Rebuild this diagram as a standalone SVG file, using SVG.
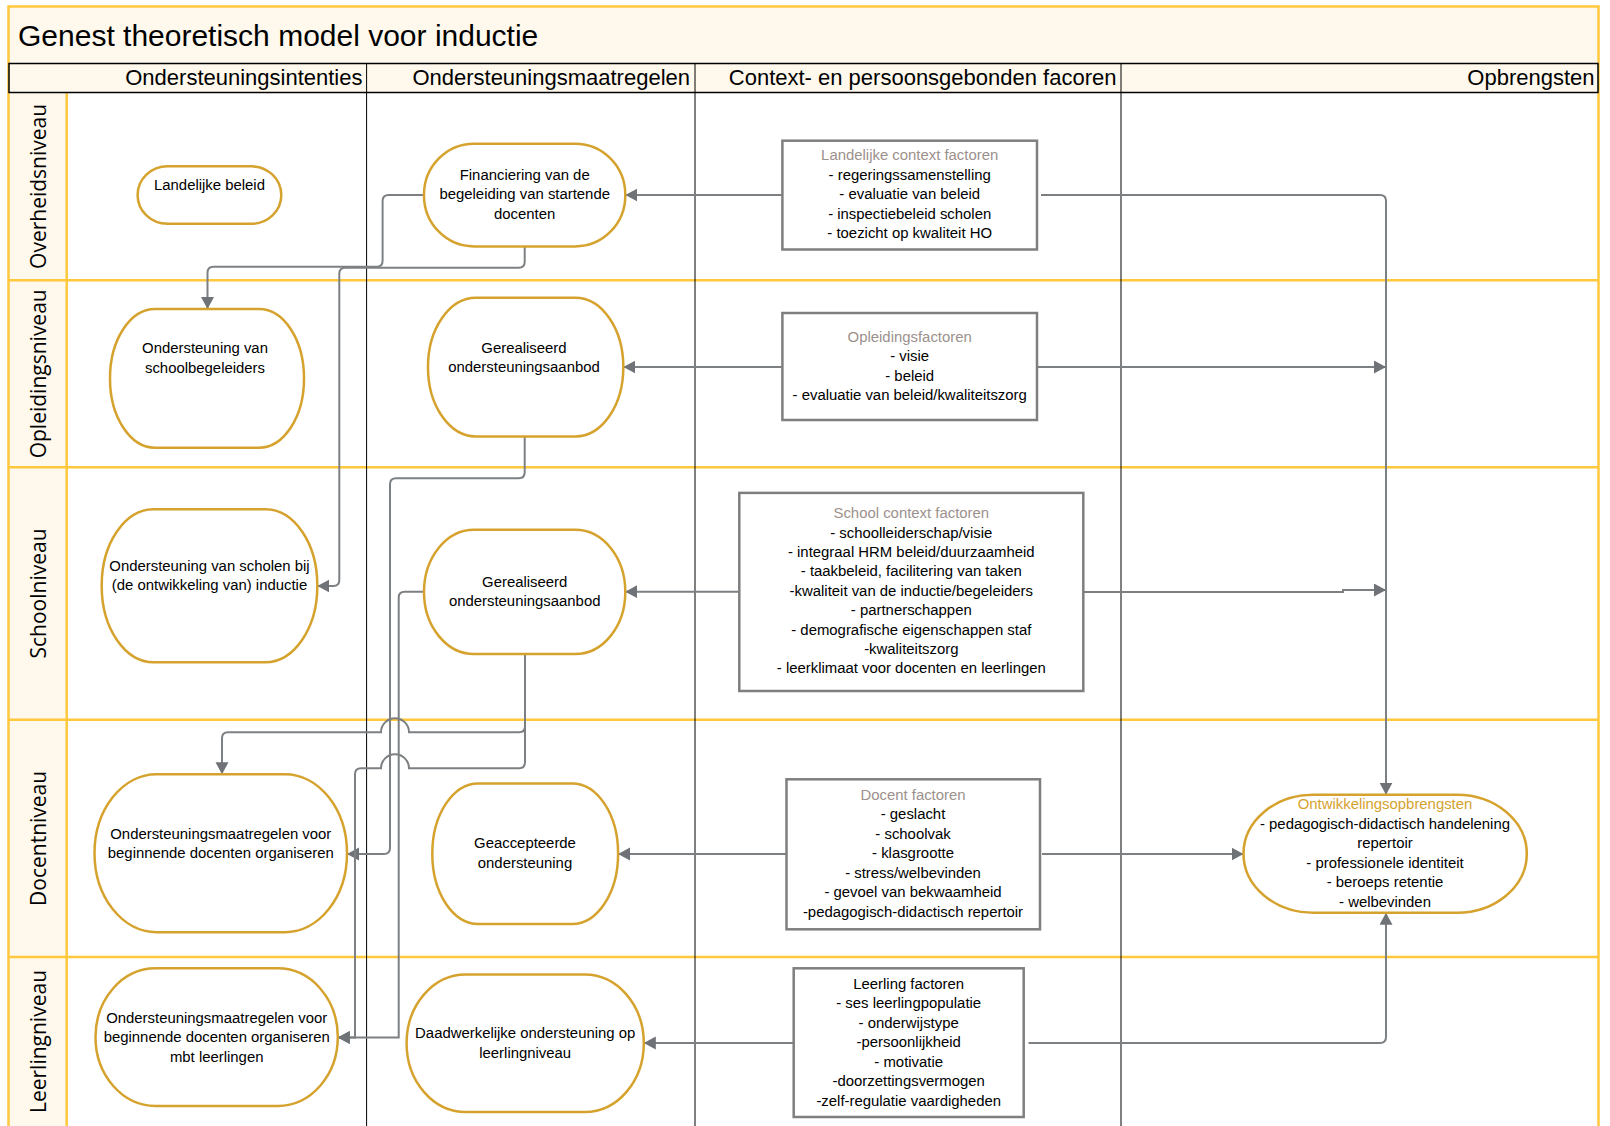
<svg xmlns="http://www.w3.org/2000/svg" width="1610" height="1126" viewBox="0 0 1610 1126">
<defs>
<style>
.node{fill:#fff;stroke:#D6A22E;stroke-width:2.5}
.box{fill:#fff;stroke:#7F7F7F;stroke-width:2.5}
.t{font-family:"Liberation Sans",Arial,sans-serif;font-size:14.9px;fill:#000;text-anchor:middle}
.bt{fill:#9C918C}
.ot{fill:#D6A22E}
.hdr{font-family:"Liberation Sans",Arial,sans-serif;font-size:22px;fill:#000;text-anchor:end}
.lane{font-family:"Open Sans",sans-serif;font-size:21px;fill:#000;text-anchor:middle}
.c{fill:none;stroke:#7D8083;stroke-width:2}
.y{stroke:#FFC83D;stroke-width:2.5;fill:none}
.k{stroke:#000;stroke-width:1;fill:none}
</style>
<marker id="ah" markerUnits="userSpaceOnUse" markerWidth="14" markerHeight="14" refX="12" refY="6.5" orient="auto"><path d="M0,0 L12,6.5 L0,13 z" fill="#6F7377"/></marker>
</defs>
<g id="background">
<rect x="0" y="0" width="1610" height="1126" fill="#fff"/>
<rect x="8.5" y="6.5" width="1590" height="57" fill="#FFF8EC"/>
<rect x="8.5" y="92.5" width="58" height="1040" fill="#FFF8EC"/>
<rect x="8.5" y="6.5" width="1590" height="1130" class="y"/>
<line x1="8.5" y1="280.3" x2="1598.5" y2="280.3" class="y"/>
<line x1="8.5" y1="467.2" x2="1598.5" y2="467.2" class="y"/>
<line x1="8.5" y1="719.8" x2="1598.5" y2="719.8" class="y"/>
<line x1="8.5" y1="957" x2="1598.5" y2="957" class="y"/>
<line x1="66.7" y1="92.5" x2="66.7" y2="1126" class="y"/>
<rect x="9" y="63.5" width="1589" height="29" fill="#FFF8EC" stroke="#000" stroke-width="1.5"/>
<line x1="366.6" y1="63.5" x2="366.6" y2="1126" class="k"/>
<line x1="695" y1="63.5" x2="695" y2="1126" class="k"/>
<line x1="1121" y1="63.5" x2="1121" y2="1126" class="k"/>
<text x="18" y="45.5" font-family="Liberation Sans, Arial, sans-serif" font-size="30" fill="#000">Genest theoretisch model voor inductie</text>
<text class="hdr" x="362.5" y="85">Ondersteuningsintenties</text>
<text class="hdr" x="690" y="85">Ondersteuningsmaatregelen</text>
<text class="hdr" x="1116.5" y="85">Context- en persoonsgebonden facoren</text>
<text class="hdr" x="1594.5" y="85">Opbrengsten</text>
<text class="lane" transform="translate(46,186.4) rotate(-90)">Overheidsniveau</text>
<text class="lane" transform="translate(46,373.8) rotate(-90)">Opleidingsniveau</text>
<text class="lane" transform="translate(46,593.5) rotate(-90)">Schoolniveau</text>
<text class="lane" transform="translate(46,838.4) rotate(-90)">Docentniveau</text>
<text class="lane" transform="translate(46,1041.5) rotate(-90)">Leerlingniveau</text>
</g>
<g id="connectors">
<path class="c" marker-end="url(#ah)" d="M782.4,195 H625.3"/>
<path class="c" marker-end="url(#ah)" d="M1041,195 H1380 Q1386,195 1386,201 V794.7"/>
<path class="c" marker-end="url(#ah)" d="M782.4,367 H623.3"/>
<path class="c" marker-end="url(#ah)" d="M1037,367 H1386"/>
<path class="c" marker-end="url(#ah)" d="M739.3,591.7 H625.3"/>
<path class="c" marker-end="url(#ah)" d="M1083.3,592 H1343 V590 H1386"/>
<path class="c" marker-end="url(#ah)" d="M786.5,854 H618.1"/>
<path class="c" marker-end="url(#ah)" d="M1042,854 H1243.5"/>
<path class="c" marker-end="url(#ah)" d="M793.7,1043 H643.8"/>
<path class="c" marker-end="url(#ah)" d="M1028.5,1043 H1380 Q1386,1043 1386,1037 V912.7"/>
<path class="c" marker-end="url(#ah)" d="M424,195 H388.6 Q382.6,195 382.6,201 V260.7 Q382.6,266.7 376.6,266.7 H213.5 Q207.5,266.7 207.5,272.7 V309"/>
<path class="c" marker-end="url(#ah)" d="M524.7,246.4 V261.7 Q524.7,267.7 518.7,267.7 H345.3 Q339.3,267.7 339.3,273.7 V580 Q339.3,586 333.3,586 H317.3"/>
<path class="c" marker-end="url(#ah)" d="M524.7,436.4 V472.3 Q524.7,478.3 518.7,478.3 H396 Q390,478.3 390,484.3 V848 Q390,854 384,854 H347"/>
<path class="c" marker-end="url(#ah)" d="M424,591.7 H404.7 Q398.7,591.7 398.7,597.7 V1037.5 H337.8"/>
<path class="c" marker-end="url(#ah)" d="M525,654 V726.3 Q525,732.3 519,732.3 H409 A14,14 0 0 0 381,732.3 H228 Q222,732.3 222,738.3 V774.2"/>
<path class="c" marker-end="url(#ah)" d="M525,654 V762.3 Q525,768.3 519,768.3 H409 A14,14 0 0 0 381,768.3 H361 Q355,768.3 355,774.3 V1037.5 H337.8"/>
</g>
<g id="n-landelijke-beleid">
<rect class="node" x="137.6" y="166.3" width="143.7" height="57.5" rx="30" ry="28.75"/>
<text class="t" x="209.5" y="190">Landelijke beleid</text>
</g>
<g id="n-financiering">
<rect class="node" x="424" y="143.7" width="201.3" height="102.7" rx="50" ry="51"/>
<text class="t" x="524.7" y="179.6">Financiering van de</text>
<text class="t" x="524.7" y="199">begeleiding van startende</text>
<text class="t" x="524.7" y="218.6">docenten</text>
</g>
<g id="n-landelijke-context">
<rect class="box" x="782.4" y="140.7" width="254.6" height="108.8"/>
<text class="t bt" x="909.7" y="160">Landelijke context factoren</text>
<text class="t" x="909.7" y="179.6">- regeringssamenstelling</text>
<text class="t" x="909.7" y="199">- evaluatie van beleid</text>
<text class="t" x="909.7" y="218.6">- inspectiebeleid scholen</text>
<text class="t" x="909.7" y="238">- toezicht op kwaliteit HO</text>
</g>
<g id="n-schoolbegeleiders">
<rect class="node" x="110" y="309" width="194" height="138.7" rx="45" ry="69"/>
<text class="t" x="205" y="353">Ondersteuning van</text>
<text class="t" x="205" y="373">schoolbegeleiders</text>
</g>
<g id="n-gerealiseerd-1">
<rect class="node" x="428" y="297.8" width="195.3" height="138.6" rx="48" ry="69"/>
<text class="t" x="524" y="352.5">Gerealiseerd</text>
<text class="t" x="524" y="372">ondersteuningsaanbod</text>
</g>
<g id="n-opleidingsfactoren">
<rect class="box" x="782.4" y="313" width="254.6" height="107"/>
<text class="t bt" x="909.7" y="341.8">Opleidingsfactoren</text>
<text class="t" x="909.7" y="361.3">- visie</text>
<text class="t" x="909.7" y="380.8">- beleid</text>
<text class="t" x="909.7" y="400.3">- evaluatie van beleid/kwaliteitszorg</text>
</g>
<g id="n-scholen">
<rect class="node" x="101.7" y="509.3" width="215.6" height="153" rx="52" ry="76"/>
<text class="t" x="209.5" y="570.8">Ondersteuning van scholen bij</text>
<text class="t" x="209.5" y="590.3">(de ontwikkeling van) inductie</text>
</g>
<g id="n-gerealiseerd-2">
<rect class="node" x="424" y="529.8" width="201.3" height="124.2" rx="50" ry="62"/>
<text class="t" x="524.7" y="586.5">Gerealiseerd</text>
<text class="t" x="524.7" y="606">ondersteuningsaanbod</text>
</g>
<g id="n-school-context">
<rect class="box" x="739.3" y="492.9" width="344" height="198.1"/>
<text class="t bt" x="911.3" y="517.5">School context factoren</text>
<text class="t" x="911.3" y="537.5">- schoolleiderschap/visie</text>
<text class="t" x="911.3" y="556.9">- integraal HRM beleid/duurzaamheid</text>
<text class="t" x="911.3" y="576.3">- taakbeleid, facilitering van taken</text>
<text class="t" x="911.3" y="595.7">-kwaliteit van de inductie/begeleiders</text>
<text class="t" x="911.3" y="615.1">- partnerschappen</text>
<text class="t" x="911.3" y="634.5">- demografische eigenschappen staf</text>
<text class="t" x="911.3" y="653.9">-kwaliteitszorg</text>
<text class="t" x="911.3" y="673.3">- leerklimaat voor docenten en leerlingen</text>
</g>
<g id="n-docent-organiseren">
<rect class="node" x="94.5" y="774.2" width="252.5" height="158" rx="62" ry="79"/>
<text class="t" x="220.8" y="838.8">Ondersteuningsmaatregelen voor</text>
<text class="t" x="220.8" y="858.3">beginnende docenten organiseren</text>
</g>
<g id="n-geaccepteerde">
<rect class="node" x="432.3" y="783.4" width="185.8" height="140.6" rx="46" ry="70"/>
<text class="t" x="525" y="848">Geaccepteerde</text>
<text class="t" x="525" y="868">ondersteuning</text>
</g>
<g id="n-docent-factoren">
<rect class="box" x="786.5" y="779.3" width="253.5" height="150"/>
<text class="t bt" x="913" y="799.8">Docent factoren</text>
<text class="t" x="913" y="819.3">- geslacht</text>
<text class="t" x="913" y="838.8">- schoolvak</text>
<text class="t" x="913" y="858.3">- klasgrootte</text>
<text class="t" x="913" y="877.8">- stress/welbevinden</text>
<text class="t" x="913" y="897.3">- gevoel van bekwaamheid</text>
<text class="t" x="913" y="916.8">-pedagogisch-didactisch repertoir</text>
</g>
<g id="n-ontwikkelingsopbrengsten">
<rect class="node" x="1243.5" y="794.7" width="283.3" height="118" rx="70" ry="59"/>
<text class="t ot" x="1385" y="809">Ontwikkelingsopbrengsten</text>
<text class="t" x="1385" y="828.5">- pedagogisch-didactisch handelening</text>
<text class="t" x="1385" y="848">repertoir</text>
<text class="t" x="1385" y="867.5">- professionele identiteit</text>
<text class="t" x="1385" y="887">- beroeps retentie</text>
<text class="t" x="1385" y="906.5">- welbevinden</text>
</g>
<g id="n-leerling-organiseren">
<rect class="node" x="95.5" y="968.3" width="242.3" height="137.6" rx="60" ry="68.8"/>
<text class="t" x="216.7" y="1022.6">Ondersteuningsmaatregelen voor</text>
<text class="t" x="216.7" y="1042">beginnende docenten organiseren</text>
<text class="t" x="216.7" y="1061.6">mbt leerlingen</text>
</g>
<g id="n-daadwerkelijke">
<rect class="node" x="406.6" y="974.5" width="237.2" height="137.5" rx="59" ry="68.7"/>
<text class="t" x="525.2" y="1038">Daadwerkelijke ondersteuning op</text>
<text class="t" x="525.2" y="1057.5">leerlingniveau</text>
</g>
<g id="n-leerling-factoren">
<rect class="box" x="793.7" y="968.3" width="230" height="148.7"/>
<text class="t" x="908.7" y="988.7">Leerling factoren</text>
<text class="t" x="908.7" y="1008.2">- ses leerlingpopulatie</text>
<text class="t" x="908.7" y="1027.7">- onderwijstype</text>
<text class="t" x="908.7" y="1047.2">-persoonlijkheid</text>
<text class="t" x="908.7" y="1066.7">- motivatie</text>
<text class="t" x="908.7" y="1086.2">-doorzettingsvermogen</text>
<text class="t" x="908.7" y="1105.7">-zelf-regulatie vaardigheden</text>
</g>
</svg>
